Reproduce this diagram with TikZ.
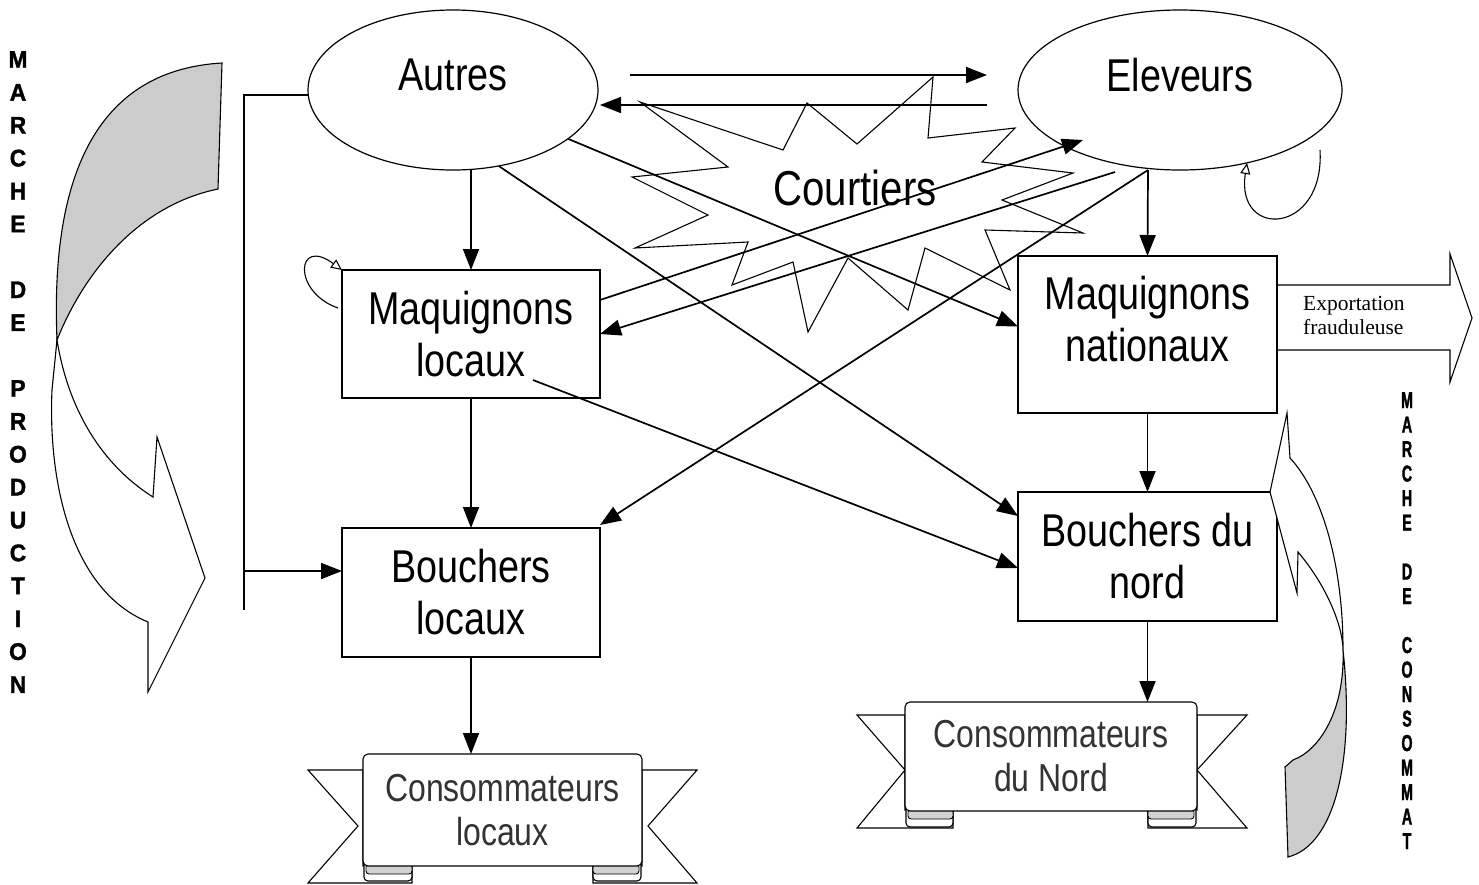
\documentclass[tikz,border=0pt]{standalone}
\usepackage{fontspec}
\setmainfont[FakeStretch=0.82]{Liberation Sans}
\newfontfamily\vfont[FakeStretch=0.95,FakeBold=1.5]{Liberation Sans}
\newfontfamily\vnfont[FakeStretch=0.62,FakeBold=1.5]{Liberation Sans}
\newfontfamily\expfont{Liberation Serif}
\usetikzlibrary{arrows.meta,calc,shapes.geometric}
\begin{document}
\begin{tikzpicture}[x=1pt,y=-1pt,
 ell/.style={draw, ellipse, fill=white, line width=1.2pt, inner sep=0pt, outer sep=0pt},
 box/.style={draw, fill=white, line width=1.3pt, align=center, inner sep=0pt, outer sep=0pt, font=\fontsize{46}{52}\selectfont},
 big/.style={font=\fontsize{46}{52}\selectfont, inner sep=0pt},
 arr/.style={line width=1.7pt, -{Triangle[length=21pt,width=16pt]}},
 selfloop/.style={line width=1.1pt, -{Triangle[open,length=11pt,width=10pt]}},
 thinline/.style={line width=1.1pt},
 ribbox/.style={draw, fill=white, line width=1.1pt, rounded corners=5pt, align=center, inner sep=0pt, outer sep=0pt, font=\fontsize{39}{44}\selectfont, text=black!80},
 ribtail/.style={draw, fill=white, line width=1.1pt, line join=miter},
 ribbase/.style={draw, fill=white, line width=1.1pt, rounded corners=4pt},
 ribband/.style={draw, fill=gray!35, line width=0.9pt, rounded corners=3pt},
 bigarrow/.style={draw, line width=1.1pt, line join=miter},
 vtext/.style={anchor=north, inner sep=0pt, align=center},
]
\fill[white] (0,0) rectangle (1479,884);
\useasboundingbox (0,0) rectangle (1479,884);

% starburst
\draw[thinline, fill=white, line join=miter] (640,102) -- (783,150) -- (807,103) -- (857,144) -- (933,77) -- (928,138) -- (1015,128) -- (982,162) -- (1073,173) -- (1002,200) -- (1083,233) -- (985,230) -- (1010,290) -- (925,248) -- (908,310) -- (848,258) -- (808,332) -- (793,262) -- (732,285) -- (748,242) -- (635,248) -- (708,215) -- (632,177) -- (728,167) -- cycle;
\node[font=\fontsize{49}{52}\selectfont, inner sep=0pt] (court) at (855,188) {Courtiers};

% ellipses
\node[ell, minimum width=290pt, minimum height=160pt] (autres) at (453,90) {};
\node[big] (autrest) at (453,75) {Autres};
\node[ell, minimum width=324pt, minimum height=160pt] (eleveurs) at (1180,90) {};
\node[big] (eleveurst) at (1180,75) {Eleveurs};

% boxes
\node[box, minimum width=258pt, minimum height=128pt] (mloc) at (471,334) {Maquignons\\locaux};
\node[box, minimum width=259pt, minimum height=157pt] (mnat) at (1147.5,334.5) {};
\node[big, align=center] (mnatt) at (1147.5,319) {Maquignons\\nationaux};
\node[box, minimum width=258pt, minimum height=129pt] (bloc) at (471,592.5) {Bouchers\\locaux};
\node[box, minimum width=259pt, minimum height=129pt] (bnord) at (1147.5,556.5) {Bouchers du\\nord};

% exportation arrow
\draw[bigarrow, fill=white] (1278,285) -- (1450,285) -- (1450,254) -- (1472,318) -- (1450,382) -- (1450,350) -- (1278,350);
\node[anchor=west, align=left, inner sep=0pt, font=\expfont\fontsize{21.5}{24}\selectfont] (exptext) at (1303,315) {Exportation\\frauduleuse};

% ribbons
\draw[ribtail] (363,770) -- (308,770) -- (358,826) -- (308,883) -- (412,883) -- (412,866) -- (363,866) -- cycle;
\draw[ribtail] (642,770) -- (697,770) -- (648,826) -- (697,883) -- (593,883) -- (593,866) -- (642,866) -- cycle;
\draw[ribbase] (364,858) rectangle (412,881);
\draw[ribbase] (593,858) rectangle (641,881);
\draw[ribband] (366,864) rectangle (412,874);
\draw[ribband] (593,864) rectangle (639,874);
\node[ribbox, minimum width=279pt, minimum height=112pt] (consloc) at (502.5,810) {Consommateurs\\locaux};

\draw[ribtail] (905,715) -- (857,715) -- (905,770) -- (857,828) -- (953,828) -- (953,810) -- (905,810) -- cycle;
\draw[ribtail] (1197,715) -- (1247,715) -- (1197,770) -- (1247,828) -- (1148,828) -- (1148,810) -- (1197,810) -- cycle;
\draw[ribbase] (906,803) rectangle (953,827);
\draw[ribbase] (1148,803) rectangle (1196,827);
\draw[ribband] (908,809) rectangle (953,819);
\draw[ribband] (1148,809) rectangle (1194,819);
\node[ribbox, minimum width=292pt, minimum height=109pt] (consnord) at (1051,756.5) {Consommateurs\\du Nord};

% connectors
\draw[arr] ([xshift=32pt,yshift=15pt]autres.east) -- ([xshift=-31pt,yshift=15pt]eleveurs.west);
\draw[arr] ([xshift=-31pt,yshift=-15pt]eleveurs.west) -- ([xshift=2pt,yshift=-15pt]autres.east);
\draw[arr] (mloc.north |- autres.south) -- (mloc.north);
\draw[arr] (autres.-23) -- ([yshift=8pt]mnat.west);
\draw[arr] (autres.-59) -- ([yshift=40.5pt]bnord.west);
\draw[arr] ([yshift=34pt]mloc.east) -- ([xshift=-97pt,yshift=-50pt]eleveurs.center);
\draw[arr] ([xshift=-65pt,yshift=-82pt]eleveurs.center) -- (mloc.east);
\draw[arr] ([xshift=-32pt]eleveurs.south) -- ([yshift=3pt]bloc.north east);
\draw[arr] ([xshift=-32pt]eleveurs.south) -- (mnat.north);
\draw[arr] (mloc.south) -- (bloc.north);
\draw[arr] ([xshift=62pt,yshift=-46pt]mloc.center) -- ([yshift=-11.5pt]bnord.west);
\draw[arr] (mnat.south) -- (bnord.north);
\draw[arr] (bloc.south) -- (bloc.south |- consloc.north);
\draw[arr] (bnord.south) -- (bnord.south |- consnord.north);

% bracket
\coordinate (brk) at (244,610);
\draw[line width=1.3pt] ([yshift=-5pt]autres.west) -| (brk);
\draw[arr] (brk |- 0,571) -- ([yshift=21.5pt]bloc.west);

% self loops
\draw[selfloop] ([xshift=-4pt,yshift=-38pt]mloc.north west) .. controls (292,292) and (296,236) .. (mloc.north west);
\draw[selfloop] ([xshift=140pt,yshift=-60pt]eleveurs.center) .. controls (1325,235) and (1235,240) .. ([xshift=67pt,yshift=-73pt]eleveurs.center);

% left curved arrow
\draw[thinline, fill=gray!40] (222,63) .. controls (100,70) and (50,170) .. (57,340) .. controls (85,270) and (140,205) .. (218,189) -- cycle;
\draw[thinline, fill=white, line join=miter] (57,340) .. controls (70,420) and (110,470) .. (153,497) -- (157,437) -- (205,578) -- (148,692) -- (148,622) .. controls (70,590) and (48,480) .. (52,390) -- cycle;

% right curved arrow
\draw[thinline, fill=white, line join=miter] (1287,413) -- (1270,492) -- (1297,593) -- (1298,552) .. controls (1330,590) and (1343,630) .. (1343,650) .. controls (1343,560) and (1320,490) .. (1290,458) -- cycle;
\draw[thinline, fill=gray!40, line join=miter] (1343,650) .. controls (1345,710) and (1320,750) .. (1293,760) -- (1285,767) -- (1288,857) .. controls (1335,845) and (1355,760) .. (1343,650) -- cycle;

% vertical texts
\node[vtext, font=\vfont\bfseries\fontsize{24}{32.9}\selectfont] (prod) at (18,51) {M\\A\\R\\C\\H\\E\\[32.9pt]D\\E\\[32.9pt]P\\R\\O\\D\\U\\C\\T\\I\\O\\N};
\node[vtext, font=\vnfont\bfseries\fontsize{23}{24.5}\selectfont] (cons) at (1407,392) {M\\A\\R\\C\\H\\E\\[24.5pt]D\\E\\[24.5pt]C\\O\\N\\S\\O\\M\\M\\A\\T};
\end{tikzpicture}
\end{document}
